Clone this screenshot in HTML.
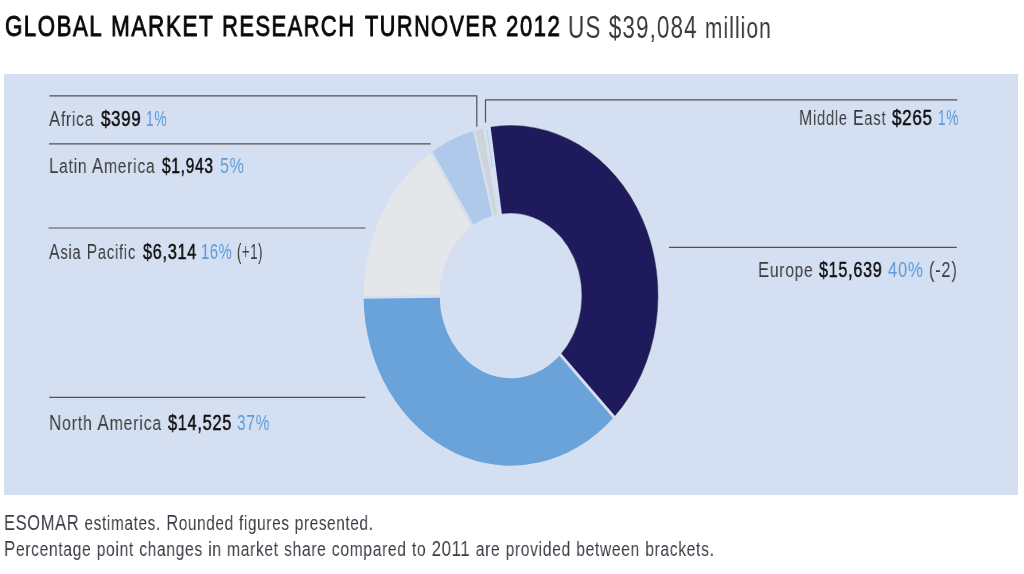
<!DOCTYPE html>
<html><head><meta charset="utf-8">
<style>
html,body{margin:0;padding:0;background:#fff;width:1024px;height:574px;overflow:hidden;}
body{position:relative;font-family:"Liberation Sans",sans-serif;}
.t{position:absolute;white-space:nowrap;line-height:1;transform-origin:0 0;will-change:transform;}
svg{position:absolute;left:0;top:0;}
</style></head><body>
<svg width="1024" height="574" viewBox="0 0 1024 574">
<rect x="4" y="74" width="1014" height="421" fill="#d4dff1"/>
<path d="M489.30,127.32 A147.2,170.1 0 0 1 613.79,417.13 L560.55,354.62 A71.1,82.6 0 0 0 500.41,213.89 Z" fill="#1e1a5c" stroke="#3c3c50" stroke-width="0.7" stroke-opacity="0.7"/>
<path d="M613.79,417.13 A147.2,170.1 0 0 1 363.61,297.38 L439.70,296.46 A71.1,82.6 0 0 0 560.55,354.62 Z" fill="#6aa3d9"/>
<path d="M363.61,297.38 A147.2,170.1 0 0 1 431.49,152.30 L472.49,226.01 A71.1,82.6 0 0 0 439.70,296.46 Z" fill="#e4e6ea"/>
<path d="M431.49,152.30 A147.2,170.1 0 0 1 474.19,130.84 L493.12,215.60 A71.1,82.6 0 0 0 472.49,226.01 Z" fill="#afc9eb"/>
<path d="M474.19,130.84 A147.2,170.1 0 0 1 483.97,128.35 L497.84,214.38 A71.1,82.6 0 0 0 493.12,215.60 Z" fill="#cfd3da"/>
<path d="M483.97,128.35 A147.2,170.1 0 0 1 489.30,127.32 L500.41,213.89 A71.1,82.6 0 0 0 497.84,214.38 Z" fill="#d9e3f3"/>
<g stroke="#d4dff1"><line x1="500.85" y1="216.85" x2="488.86" y2="124.36" stroke-width="2.8"/><line x1="558.45" y1="352.47" x2="615.89" y2="419.28" stroke-width="2.8"/><line x1="442.70" y1="296.43" x2="360.61" y2="297.41" stroke-width="2.8"/><line x1="474.11" y1="228.54" x2="429.88" y2="149.77" stroke-width="2.8"/><line x1="493.86" y1="218.50" x2="473.45" y2="127.94" stroke-width="2.3"/><line x1="498.39" y1="217.33" x2="483.43" y2="125.40" stroke-width="2.0"/></g>
<line x1="486.84" y1="129.81" x2="492.45" y2="168.27" stroke="#8db0e4" stroke-width="1.0" stroke-dasharray="1 1.3"/>


<g stroke="#505055" stroke-width="1.2" fill="none">
<polyline points="49.5,95.9 476.8,95.9 476.8,126.8"/>
<polyline points="485.5,122.6 485.5,99.9 957.2,99.9"/>
<line x1="49" y1="143.9" x2="430.7" y2="143.9"/>
<line x1="48.5" y1="228" x2="365.4" y2="228"/>
<line x1="669" y1="247.4" x2="956.8" y2="247.4"/>
<line x1="49.3" y1="397.4" x2="365.4" y2="397.4"/>
</g>
</svg>
<div class="t" style="left:5.26px;top:10.7px;font-size:30px;letter-spacing:2.0px;color:#0a0a0a;-webkit-text-stroke:0.9px #0a0a0a;transform:scale(0.7442,1.0)">GLOBAL</div>
<div class="t" style="left:111.35px;top:10.7px;font-size:30px;letter-spacing:2.0px;color:#0a0a0a;-webkit-text-stroke:0.9px #0a0a0a;transform:scale(0.7537,1.0)">MARKET</div>
<div class="t" style="left:222.37px;top:10.7px;font-size:30px;letter-spacing:2.0px;color:#0a0a0a;-webkit-text-stroke:0.9px #0a0a0a;transform:scale(0.7307,1.0)">RESEARCH</div>
<div class="t" style="left:364.50px;top:10.7px;font-size:30px;letter-spacing:2.0px;color:#0a0a0a;-webkit-text-stroke:0.9px #0a0a0a;transform:scale(0.7236,1.0)">TURNOVER</div>
<div class="t" style="left:505.96px;top:10.7px;font-size:30px;letter-spacing:2.0px;color:#0a0a0a;-webkit-text-stroke:0.9px #0a0a0a;transform:scale(0.7408,1.0)">2012</div>
<div class="t" style="left:568.35px;top:11.7px;font-size:31px;letter-spacing:1.5px;color:#3a3a3a;transform:scale(0.7254,1.0)">US $39,084 <span style="font-size:0.93em">million</span></div>
<div class="t" style="left:49.10px;top:107.6px;font-size:21.2px;letter-spacing:1px;color:#3c3c3c;transform:scale(0.7860,1.0)">A<span style="font-size:0.93em">frica</span></div>
<div class="t" style="left:100.90px;top:107.6px;font-size:21.2px;letter-spacing:1px;color:#0e0e0e;-webkit-text-stroke:0.5px #0e0e0e;transform:scale(0.7920,1.0)">$399</div>
<div class="t" style="left:145.95px;top:107.6px;font-size:21.2px;letter-spacing:1px;color:#5b9bd8;transform:scale(0.6533,1.0)">1%</div>
<div class="t" style="left:48.61px;top:155.4px;font-size:21.2px;letter-spacing:1px;color:#3c3c3c;transform:scale(0.7917,1.0)">L<span style="font-size:0.93em">atin</span> A<span style="font-size:0.93em">merica</span></div>
<div class="t" style="left:161.70px;top:155.4px;font-size:21.2px;letter-spacing:1px;color:#0e0e0e;-webkit-text-stroke:0.5px #0e0e0e;transform:scale(0.7300,1.0)">$1,943</div>
<div class="t" style="left:219.85px;top:155.4px;font-size:21.2px;letter-spacing:1px;color:#5b9bd8;transform:scale(0.7533,1.0)">5%</div>
<div class="t" style="left:49.40px;top:241.2px;font-size:21.2px;letter-spacing:1px;color:#3c3c3c;transform:scale(0.7487,1.0)">A<span style="font-size:0.93em">sia</span> P<span style="font-size:0.93em">acific</span></div>
<div class="t" style="left:142.80px;top:241.2px;font-size:21.2px;letter-spacing:1px;color:#0e0e0e;-webkit-text-stroke:0.5px #0e0e0e;transform:scale(0.7629,1.0)">$6,314</div>
<div class="t" style="left:201.41px;top:241.2px;font-size:21.2px;letter-spacing:1px;color:#5b9bd8;transform:scale(0.6907,1.0)">16%</div>
<div class="t" style="left:237.28px;top:241.2px;font-size:21.2px;letter-spacing:1px;color:#3c3c3c;transform:scale(0.6150,1.0)">(+1)</div>
<div class="t" style="left:49.09px;top:411.8px;font-size:21.2px;letter-spacing:1px;color:#3c3c3c;transform:scale(0.8058,1.0)">N<span style="font-size:0.93em">orth</span> A<span style="font-size:0.93em">merica</span></div>
<div class="t" style="left:168.10px;top:411.8px;font-size:21.2px;letter-spacing:1px;color:#0e0e0e;-webkit-text-stroke:0.5px #0e0e0e;transform:scale(0.7671,1.0)">$14,525</div>
<div class="t" style="left:237.47px;top:411.8px;font-size:21.2px;letter-spacing:1px;color:#5b9bd8;transform:scale(0.7302,1.0)">37%</div>
<div class="t" style="left:798.65px;top:107.3px;font-size:21.2px;letter-spacing:1px;color:#3c3c3c;transform:scale(0.7478,1.0)">M<span style="font-size:0.93em">iddle</span> E<span style="font-size:0.93em">ast</span></div>
<div class="t" style="left:892.20px;top:107.3px;font-size:21.2px;letter-spacing:1px;color:#0e0e0e;-webkit-text-stroke:0.5px #0e0e0e;transform:scale(0.8000,1.0)">$265</div>
<div class="t" style="left:937.75px;top:107.3px;font-size:21.2px;letter-spacing:1px;color:#5b9bd8;transform:scale(0.6467,1.0)">1%</div>
<div class="t" style="left:757.61px;top:258.5px;font-size:21.2px;letter-spacing:1px;color:#3c3c3c;transform:scale(0.7868,1.0)">E<span style="font-size:0.93em">urope</span></div>
<div class="t" style="left:818.90px;top:258.5px;font-size:21.2px;letter-spacing:1px;color:#0e0e0e;-webkit-text-stroke:0.5px #0e0e0e;transform:scale(0.7598,1.0)">$15,639</div>
<div class="t" style="left:888.10px;top:258.5px;font-size:21.2px;letter-spacing:1px;color:#5b9bd8;transform:scale(0.7841,1.0)">40%</div>
<div class="t" style="left:928.73px;top:258.5px;font-size:21.2px;letter-spacing:1px;color:#3c3c3c;transform:scale(0.7735,1.0)">(-2)</div>
<div class="t" style="left:4.42px;top:512.0px;font-size:21.2px;letter-spacing:0.8px;color:#3a3d45;transform:scale(0.7794,1.0)">ESOMAR <span style="font-size:0.93em">estimates</span>. R<span style="font-size:0.93em">ounded</span> <span style="font-size:0.93em">figures</span> <span style="font-size:0.93em">presented</span>.</div>
<div class="t" style="left:4.40px;top:538.0px;font-size:21.2px;letter-spacing:0.8px;color:#3a3d45;transform:scale(0.7956,1.0)">P<span style="font-size:0.93em">ercentage</span> <span style="font-size:0.93em">point</span> <span style="font-size:0.93em">changes</span> <span style="font-size:0.93em">in</span> <span style="font-size:0.93em">market</span> <span style="font-size:0.93em">share</span> <span style="font-size:0.93em">compared</span> <span style="font-size:0.93em">to</span> 2011 <span style="font-size:0.93em">are</span> <span style="font-size:0.93em">provided</span> <span style="font-size:0.93em">between</span> <span style="font-size:0.93em">brackets</span>.</div>
</body></html>
